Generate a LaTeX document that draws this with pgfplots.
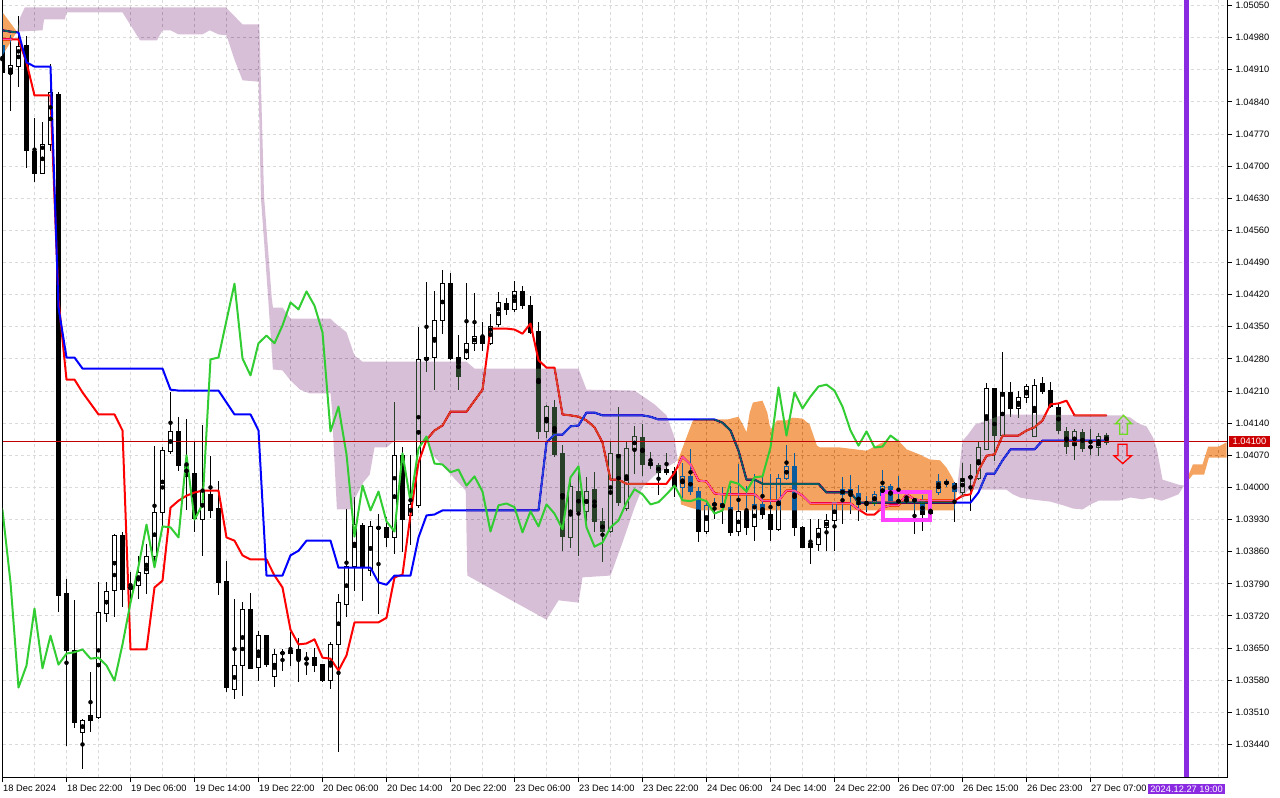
\documentclass[border=0pt]{standalone}
\usepackage{fontspec}
\setmainfont{Liberation Sans}
\usepackage{pgfplots}
\pgfplotsset{compat=1.18}
\usepackage{pgfplotstable}

\definecolor{tenkan}{RGB}{255,0,0}
\definecolor{kijun}{RGB}{0,0,255}
\definecolor{chikou}{RGB}{50,205,50}
% clouds are drawn with blend mode=difference, so they use the inverse colours
\definecolor{invthistle}{RGB}{39,64,39}
\definecolor{invsandy}{RGB}{11,91,159}
\definecolor{gridgray}{RGB}{218,218,218}
\definecolor{bidline}{RGB}{192,0,0}
\definecolor{bidbox}{RGB}{204,0,0}
\definecolor{vline}{RGB}{138,43,226}
\definecolor{hilite}{RGB}{255,64,255}

% H1 candles, bar index k
\pgfplotstableread{
k O H L C
0 1.04963 1.04980 1.04895 1.04904
1 1.04902 1.04985 1.04821 1.04919
2 1.04917 1.05028 1.04874 1.04961
3 1.04963 1.04985 1.04697 1.04734
4 1.04734 1.04806 1.04667 1.04686
5 1.04686 1.04797 1.04684 1.04749
6 1.04747 1.04924 1.04734 1.04860
7 1.04858 1.04862 1.03730 1.03765
8 1.03769 1.03800 1.03436 1.03645
9 1.03645 1.03756 1.03477 1.03488
10 1.03466 1.03495 1.03386 1.03492
11 1.03492 1.03599 1.03468 1.03503
12 1.03501 1.03795 1.03498 1.03728
13 1.03728 1.03795 1.03708 1.03776
14 1.03776 1.03900 1.03719 1.03895
15 1.03895 1.03904 1.03741 1.03778
16 1.03778 1.03817 1.03758 1.03786
17 1.03786 1.03852 1.03758 1.03815
18 1.03813 1.03878 1.03769 1.03850
19 1.03850 1.04091 1.03830 1.03945
20 1.03945 1.04089 1.03911 1.04080
21 1.04080 1.04209 1.04074 1.04122
22 1.04122 1.04155 1.04037 1.04048
23 1.04048 1.04150 1.03950 1.04024
24 1.04030 1.04100 1.03902 1.03932
25 1.03932 1.04137 1.03852 1.03993
26 1.03985 1.04067 1.03932 1.03950
27 1.03954 1.04015 1.03765 1.03793
28 1.03795 1.03841 1.03555 1.03564
29 1.03560 1.03758 1.03540 1.03612
30 1.03612 1.03751 1.03547 1.03736
31 1.03736 1.03769 1.03604 1.03606
32 1.03608 1.03688 1.03579 1.03677
33 1.03677 1.03680 1.03610 1.03614
34 1.03590 1.03649 1.03566 1.03638
35 1.03640 1.03649 1.03601 1.03641
36 1.03640 1.03686 1.03612 1.03647
37 1.03647 1.03671 1.03577 1.03627
38 1.03628 1.03643 1.03592 1.03629
39 1.03629 1.03651 1.03599 1.03612
40 1.03614 1.03616 1.03577 1.03579
41 1.03579 1.03664 1.03560 1.03658
42 1.03658 1.03769 1.03425 1.03749
43 1.03745 1.03954 1.03719 1.03828
44 1.03828 1.03980 1.03776 1.03919
45 1.03919 1.03924 1.03754 1.03826
46 1.03819 1.03928 1.03808 1.03915
47 1.03913 1.03943 1.03725 1.03913
48 1.03913 1.03935 1.03870 1.03891
49 1.03891 1.04187 1.03856 1.04070
50 1.04070 1.04089 1.03860 1.03930
51 1.03939 1.04070 1.03874 1.03963
52 1.03961 1.04351 1.03956 1.04279
53 1.04279 1.04449 1.04253 1.04283
54 1.04283 1.04427 1.04213 1.04364
55 1.04364 1.04473 1.04335 1.04444
56 1.04444 1.04468 1.04279 1.04281
57 1.04285 1.04333 1.04213 1.04244
58 1.04281 1.04447 1.04279 1.04314
59 1.04314 1.04423 1.04296 1.04331
60 1.04331 1.04362 1.04298 1.04314
61 1.04316 1.04379 1.04310 1.04353
62 1.04355 1.04427 1.04350 1.04403
63 1.04401 1.04414 1.04377 1.04388
64 1.04388 1.04451 1.04383 1.04427
65 1.04427 1.04440 1.04390 1.04396
66 1.04398 1.04418 1.04335 1.04338
67 1.04340 1.04362 1.04107 1.04122
68 1.04122 1.04181 1.04109 1.04176
69 1.04176 1.04192 1.04067 1.04072
70 1.04074 1.04094 1.03863 1.03893
71 1.03893 1.04015 1.03869 1.04004
72 1.03993 1.04035 1.03852 1.03950
73 1.03948 1.04024 1.03917 1.03991
74 1.03995 1.04035 1.03904 1.03926
75 1.03926 1.03956 1.03839 1.03904
76 1.03904 1.04100 1.03900 1.04074
77 1.04074 1.04176 1.03961 1.03969
78 1.03954 1.04100 1.03950 1.04085
79 1.04083 1.04135 1.04030 1.04111
80 1.04111 1.04139 1.04026 1.04052
81 1.04055 1.04078 1.04041 1.04050
82 1.04048 1.04054 1.03985 1.04033
83 1.04033 1.04076 1.04028 1.04039
84 1.04037 1.04046 1.03980 1.04004
85 1.04000 1.04054 1.03976 1.04024
86 1.04024 1.04083 1.03983 1.03991
87 1.03991 1.04002 1.03882 1.03904
88 1.03904 1.03972 1.03900 1.03961
89 1.03961 1.03976 1.03932 1.03965
90 1.03965 1.04002 1.03922 1.03957
91 1.03957 1.04004 1.03895 1.03902
92 1.03904 1.04052 1.03895 1.03948
93 1.03948 1.04004 1.03898 1.03915
94 1.03915 1.04030 1.03884 1.03963
95 1.03963 1.04030 1.03932 1.03943
96 1.03943 1.04030 1.03884 1.03909
97 1.03909 1.04030 1.03905 1.04022
98 1.04020 1.04094 1.04017 1.04046
99 1.04046 1.04076 1.03895 1.03913
100 1.03913 1.03917 1.03870 1.03871
101 1.03871 1.03932 1.03834 1.03880
102 1.03878 1.03932 1.03863 1.03913
103 1.03913 1.03943 1.03863 1.03928
104 1.03928 1.03970 1.03863 1.03967
105 1.03985 1.04024 1.03922 1.03996
106 1.03996 1.04028 1.03943 1.03985
107 1.03987 1.04006 1.03926 1.03963
108 1.03965 1.03983 1.03948 1.03968
109 1.03967 1.03993 1.03960 1.03985
110 1.03985 1.04037 1.03983 1.04004
111 1.04004 1.04008 1.03970 1.03972
112 1.03972 1.04026 1.03965 1.03970
113 1.03970 1.03993 1.03965 1.03976
114 1.03976 1.03978 1.03900 1.03970
115 1.03970 1.03983 1.03906 1.03943
116 1.03943 1.03965 1.03935 1.03950
117 1.03989 1.04030 1.03985 1.04013
118 1.04013 1.04020 1.04002 1.04008
119 1.04009 1.04013 1.03926 1.03991
120 1.03991 1.04054 1.03980 1.04022
121 1.04022 1.04052 1.03948 1.04024
122 1.04020 1.04100 1.04017 1.04087
123 1.04085 1.04229 1.04083 1.04218
124 1.04216 1.04218 1.04059 1.04113
125 1.04113 1.04296 1.04110 1.04207
126 1.04207 1.04231 1.04155 1.04172
127 1.04172 1.04209 1.04150 1.04198
128 1.04198 1.04227 1.04185 1.04220
129 1.04113 1.04237 1.04110 1.04224
130 1.04227 1.04242 1.04205 1.04211
131 1.04211 1.04231 1.04174 1.04176
132 1.04176 1.04183 1.04117 1.04124
133 1.04124 1.04133 1.04074 1.04091
134 1.04091 1.04128 1.04061 1.04122
135 1.04122 1.04128 1.04078 1.04087
136 1.04087 1.04128 1.04070 1.04089
137 1.04089 1.04120 1.04070 1.04113
138 1.04115 1.04120 1.04094 1.04100
}\candles

\begin{document}
\begin{tikzpicture}
\path[use as bounding box] (-2.5pt,-20pt) rectangle (1277.5pt,777.5pt);
\begin{axis}[
    scale only axis,
    width=1224.5pt, height=777.5pt,
    xmin=0, xmax=153.06,
    ymin=1.03368, ymax=1.05062,
    axis background/.style={fill=white},
    axis line style={line width=1pt, black},
    tick style={black, line width=1pt},
    tick align=outside,
    major tick length=5pt, minor tick length=0pt,
    xtick pos=left, ytick pos=right, yticklabel pos=right,
    xtick={0,8,...,136},
    xticklabels={18 Dec 2024, 18 Dec 22:00, 19 Dec 06:00, 19 Dec 14:00, 19 Dec 22:00,
        20 Dec 06:00, 20 Dec 14:00, 20 Dec 22:00, 23 Dec 06:00, 23 Dec 14:00,
        23 Dec 22:00, 24 Dec 06:00, 24 Dec 14:00, 24 Dec 22:00, 26 Dec 07:00,
        26 Dec 15:00, 26 Dec 23:00, 27 Dec 07:00},
    minor xtick={4,12,...,132,140,144,148,152},
    ytick={1.0344,1.0351,1.0358,1.0365,1.0372,1.0379,1.0386,1.0393,1.0400,1.0407,
        1.0414,1.0421,1.0428,1.0435,1.0442,1.0449,1.0456,1.0463,1.0470,1.0477,
        1.0484,1.0491,1.0498,1.0505},
    scaled y ticks=false,
    /pgf/number format/assume math mode=true,
    yticklabel style={/pgf/number format/fixed, /pgf/number format/fixed zerofill,
        /pgf/number format/precision=5, anchor=west, inner sep=0pt, xshift=3.5pt},
    xticklabel style={anchor=north west, inner sep=0pt, xshift=0.5pt, yshift=-2pt},
    tick label style={font=\fontsize{9.3}{11}\selectfont, text=black},
    grid=both,
    major grid style={gridgray, line width=1pt, dash pattern=on 3pt off 3pt},
    minor grid style={gridgray, line width=1pt, dash pattern=on 3pt off 3pt},
    extra y ticks={1.041}, extra y tick labels={1.04100},
    extra y tick style={grid=none, major tick length=0pt,
        yticklabel style={fill=bidbox, text=white, inner xsep=3.5pt, inner ysep=2pt, xshift=-1.5pt}},
    extra x ticks={148}, extra x tick labels={2024.12.27 19:00},
    extra x tick style={grid=none, major tick length=0pt,
        xticklabel style={anchor=north, fill=vline, text=white, inner xsep=2.5pt, inner ysep=2pt, xshift=-0.5pt, yshift=-4pt}},
]

% wicks
\addplot[only marks, mark=none,
    error bars/.cd, y dir=both, y explicit, error mark=none,
    error bar style={line width=1pt, black}]
    table[x=k, y expr={(\thisrow{H}+\thisrow{L})/2},
        y error expr={(\thisrow{H}-\thisrow{L})/2}] {\candles};
% bodies: black outline / filled
\addplot[only marks, mark=none,
    error bars/.cd, y dir=both, y explicit, error mark=none,
    error bar style={line width=5pt, black}]
    table[x=k, y expr={(\thisrow{O}+\thisrow{C})/2},
        y error expr={abs(\thisrow{C}-\thisrow{O})/2+0.0000109}] {\candles};
% bullish bodies: white inside
\addplot[only marks, mark=none,
    error bars/.cd, y dir=both, y explicit, error mark=none,
    error bar style={line width=3pt, white}]
    table[x=k, y expr={(\thisrow{O}+\thisrow{C})/2},
        y error expr={\thisrow{C}>\thisrow{O} ? max((\thisrow{C}-\thisrow{O})/2-0.0000109,0) : 0}] {\candles};

% Tenkan-sen
\addplot[tenkan, line width=2pt, line join=round] coordinates {
(0,1.04976)(1,1.04976)(2,1.04976)(3,1.04926)(4,1.04854)(5,1.04854)(6,1.04854)(7,1.04409)
(8,1.04235)(9,1.04235)(10,1.04207)(11,1.04183)(12,1.04159)(13,1.04159)(14,1.04159)(15,1.04124)
(16,1.03647)(17,1.03647)(18,1.03647)(19,1.03782)(20,1.03797)(21,1.03956)(22,1.03971)(23,1.03982)
(24,1.03989)(25,1.03993)(26,1.03993)(27,1.03993)(28,1.03891)(29,1.03884)(30,1.03852)(31,1.03843)
(32,1.03843)(33,1.03843)(34,1.03808)(35,1.03782)(36,1.03690)(37,1.03658)(38,1.03660)(39,1.03669)
(40,1.03629)(41,1.03627)(42,1.03601)(43,1.03634)(44,1.03706)(45,1.03706)(46,1.03706)(47,1.03706)
(48,1.03716)(49,1.03804)(50,1.03810)(51,1.03941)(52,1.04054)(53,1.04104)(54,1.04124)(55,1.04135)
(56,1.04165)(57,1.04165)(58,1.04165)(59,1.04189)(60,1.04213)(61,1.04346)(62,1.04346)(63,1.04346)
(64,1.04344)(65,1.04335)(66,1.04357)(67,1.04277)(68,1.04261)(69,1.04261)(70,1.04159)(71,1.04157)
(72,1.04154)(73,1.04146)(74,1.04131)(75,1.04098)(76,1.04017)(77,1.04017)(78,1.04008)(79,1.04008)
(80,1.04008)(81,1.04008)(82,1.04008)(83,1.04008)(84,1.04032)(85,1.04067)(86,1.04050)(87,1.04015)
(88,1.04013)(89,1.03987)(90,1.03985)(91,1.03985)(92,1.03985)(93,1.03985)(94,1.03985)(95,1.03971)
(96,1.03971)(97,1.03971)(98,1.03993)(99,1.03993)(100,1.03982)(101,1.03965)(102,1.03965)(103,1.03965)
(104,1.03965)(105,1.03965)(106,1.03965)(107,1.03952)(108,1.03941)(109,1.03941)(110,1.03956)(111,1.03961)
(112,1.03961)(113,1.03985)(114,1.03974)(115,1.03971)(116,1.03971)(117,1.03971)(118,1.03971)(119,1.03971)
(120,1.03982)(121,1.03985)(122,1.04037)(123,1.04069)(124,1.04072)(125,1.04113)(126,1.04113)(127,1.04113)
(128,1.04124)(129,1.04131)(130,1.04146)(131,1.04181)(132,1.04183)(133,1.04189)(134,1.04157)(135,1.04157)
(136,1.04157)(137,1.04157)(138,1.04157)};

% Kijun-sen
\addplot[kijun, line width=2pt, line join=round] coordinates {
(0,1.04996)(1,1.04993)(2,1.04991)(3,1.04926)(4,1.04917)(5,1.04917)(6,1.04917)(7,1.04392)
(8,1.04283)(9,1.04283)(10,1.04259)(20,1.04259)(21,1.04213)(22,1.04211)(27,1.04211)(28,1.04185)
(29,1.04159)(31,1.04159)(32,1.04124)(33,1.03808)(35,1.03808)(36,1.03852)(37,1.03862)(38,1.03884)
(41,1.03884)(42,1.03825)(46,1.03825)(47,1.03793)(48,1.03788)(49,1.03808)(51,1.03808)(52,1.03891)
(53,1.03939)(54,1.03941)(55,1.03950)(67,1.03950)(68,1.04098)(69,1.04115)(70,1.04115)(71,1.04133)
(72,1.04135)(73,1.04163)(74,1.04163)(75,1.04157)(80,1.04157)(81,1.04154)(82,1.04148)(89,1.04148)
(90,1.04141)(91,1.04124)(92,1.04080)(93,1.04017)(94,1.04017)(95,1.04008)(102,1.04008)(103,1.03989)
(106,1.03989)(107,1.03967)(121,1.03967)(122,1.03989)(123,1.04030)(124,1.04030)(125,1.04059)(126,1.04083)
(129,1.04083)(130,1.04102)(138,1.04102)};

% Kumo (Senkou A / B), drawn as difference so what lies below shows through inverted
\addplot[fill=invsandy, draw=none, blend mode=difference] coordinates {
(-0.5,1.05047)(1.8,1.04993)(-0.5,1.04927)};
\addplot[fill=invthistle, draw=none, blend mode=difference] coordinates {
(1.8,1.04993)(2.2,1.05024)(2.8,1.05046)(27.9,1.05046)(30,1.05009)(32.1,1.05009)(32.7,1.04632)
(33.65,1.04414)(33.8,1.04392)(35,1.04392)(36,1.04368)(41,1.04368)(41.5,1.04359)(43,1.04338)
(44,1.04287)(45,1.04274)(58,1.04274)(59,1.04259)(72,1.04259)(73,1.04213)(79,1.04211)(81.5,1.04181)
(83,1.04157)(84,1.04109)(84.4,1.04059)
(83,1.04043)(81.5,1.04026)(80,1.04000)(79,1.03956)(77.5,1.03880)(76,1.03808)(72.5,1.03804)
(72,1.03749)(69.5,1.03754)(68,1.03712)(63,1.03760)(58.1,1.03808)(57.9,1.03993)(53.7,1.04072)
(53.3,1.04102)(49,1.04102)(48,1.04087)(46.5,1.04087)(45.9,1.04028)(45.1,1.04011)(44.1,1.03978)
(43.7,1.03952)(41.8,1.03952)(41.3,1.04124)(41.2,1.04168)(41,1.04205)(38.4,1.04205)(37.2,1.04213)
(36,1.04233)(35,1.04255)(33.8,1.04257)(33.2,1.04414)(32.3,1.04632)(32,1.04884)(30,1.04887)
(29,1.04932)(28,1.04985)(27,1.04987)(25.9,1.04996)(25,1.04987)(22,1.04987)(21,1.04996)(20,1.04996)
(19.3,1.04974)(17.2,1.04974)(15,1.05035)(8,1.05035)(7.8,1.05020)(5.2,1.05020)(5,1.04996)};
\addplot[fill=invsandy, draw=none, blend mode=difference] coordinates {
(84.4,1.04059)(84.7,1.04072)(86.3,1.04146)(87.2,1.04148)(90.6,1.04148)(92,1.04154)(92.6,1.04135)
(93,1.04120)(93.4,1.04163)(93.8,1.04185)(95,1.04189)(95.6,1.04163)(96,1.04126)(96.8,1.04146)
(98,1.04146)(98.7,1.04152)(100,1.04150)(100.9,1.04137)(101.8,1.04091)(102.2,1.04087)(104.7,1.04087)
(108,1.04080)(110,1.04098)(112,1.04102)(113,1.04083)(114.6,1.04072)(115.9,1.04061)(117.2,1.04059)
(118,1.04043)(118.7,1.04022)(119,1.04011)(119.3,1.03995)
(119,1.03950)(87.2,1.03950)(86,1.03956)(84.8,1.03963)};
\addplot[fill=invthistle, draw=none, blend mode=difference] coordinates {
(119.3,1.03995)(120,1.04102)(120.6,1.04113)(121.6,1.04137)(124.3,1.04154)(125.5,1.04159)(140,1.04157)
(141,1.04152)(142,1.04139)(143,1.04133)(143.8,1.04109)(144.3,1.04083)(145,1.04017)(147,1.04006)
(147.7,1.04004)
(147,1.03985)(146,1.03978)(144.9,1.03971)(143.5,1.03978)(142.5,1.03974)(141,1.03978)(139.5,1.03971)
(137,1.03971)(136,1.03963)(135,1.03952)(133.8,1.03954)(132.6,1.03961)(131,1.03969)(130,1.03971)
(128.5,1.03974)(127.2,1.03978)(126.3,1.03985)(125.5,1.03995)(121.5,1.03995)(120.6,1.03993)(120,1.03975)};
\addplot[fill=invsandy, draw=none, blend mode=difference] coordinates {
(147.7,1.04004)(148.8,1.04050)(150,1.04050)(150.7,1.04089)(152,1.04089)(153,1.04098)
(153,1.04065)(150.8,1.04065)(150.2,1.04028)(148.8,1.04028)};

% Chikou span: close shifted 26 bars back
\addplot[chikou, line width=2pt, line join=round] table[x expr=\thisrow{k}-26, y=C] {\candles};

% bid line
\addplot[bidline, line width=1pt] coordinates {(0,1.041)(153.06,1.041)};

% highlight box
\addplot[hilite, line width=4pt, line join=miter] coordinates {
(110.06,1.03991)(115.94,1.03991)(115.94,1.03930)(110.06,1.03930)(110.06,1.03991)(115.94,1.03991)};

% signal arrows
\addplot[chikou!70!yellow, line width=1.3pt, line join=miter] coordinates {
(139.65,1.04116)(140.61,1.04116)(140.61,1.04139)(141.12,1.04139)(140.13,1.04157)(139.14,1.04139)
(139.65,1.04139)(139.65,1.04116)(140.61,1.04116)};
\addplot[red, line width=1.3pt, line join=miter] coordinates {
(139.44,1.04094)(140.56,1.04094)(140.56,1.04069)(141.12,1.04069)(140.03,1.04052)(138.94,1.04069)
(139.44,1.04069)(139.44,1.04094)(140.56,1.04094)};

% time marker
\addplot[vline, line width=5pt] coordinates {(148,1.03368)(148,1.05062)};
\end{axis}
\end{tikzpicture}
\end{document}
